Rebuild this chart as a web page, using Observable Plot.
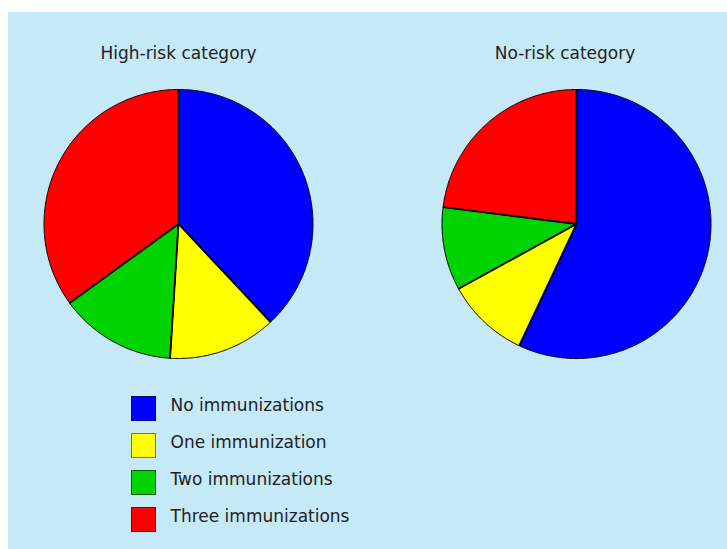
<!DOCTYPE html>
<html>
<head>
<meta charset="utf-8">
<script src="https://cdn.jsdelivr.net/npm/d3@7"></script>
<script src="https://cdn.jsdelivr.net/npm/@observablehq/plot@0.6"></script>
<style>
  html, body { margin: 0; padding: 0; background: #ffffff; }
  #panel {
    position: absolute; left: 8px; top: 12px; width: 719px; height: 537px;
    background: #c6e9f8; font-family: "DejaVu Sans", sans-serif; color: #222;
  }
  #chart svg { display: block; }
  #legend { position: absolute; left: 123px; top: 384px; }
  .row { display: flex; align-items: flex-start; height: 37px; }
  .sw { width: 23px; height: 23px; border: 1.5px solid #000; box-sizing: content-box; }
  .lab { margin-left: 14.5px; font-size: 17px; line-height: 20px; margin-top: -1px; white-space: nowrap; }
</style>
</head>
<body>
<div id="panel"><div id="chart"></div><div id="legend"></div></div>
<script>
// ---- data ----
const groups = ["High-risk category", "No-risk category"];
const categories = ["No immunizations", "One immunization", "Two immunizations", "Three immunizations"];
const highRisk = [38, 13, 14, 35];
const noRisk = [57, 10, 10, 23];
const colors = ["#0000ff", "#ffff00", "#00d300", "#ff0000"];

// ---- layout (not data) ----
const R = 134.5;            // pie radius in px
const facetW = 302;         // facet band width in px
const plotH = 360, mTop = 70, mBottom = 7;
const kx = facetW / 2 / R;
const ky = (plotH - mTop - mBottom) / 2 / R;
const titleOffsetPx = [0, -11.5];

// ---- build slice polygons from the data ----
const seriesByGroup = new Map([[groups[0], highRisk], [groups[1], noRisk]]);
const pie = d3.pie().sort(null).value(d => d.value);
const polys = [], edges = [];
for (const g of groups) {
  const vals = seriesByGroup.get(g);
  const arcs = pie(categories.map((c, i) => ({category: c, value: vals[i]})));
  for (const a of arcs) {
    const key = g + "|" + a.data.category;
    const cat = a.data.category;
    const n = Math.max(2, Math.ceil((a.endAngle - a.startAngle) / (Math.PI / 360)));
    polys.push({g, cat, key, x: 0, y: 0});
    for (let k = 0; k <= n; k++) {
      const t = a.startAngle + (a.endAngle - a.startAngle) * k / n;
      polys.push({g, cat, key, x: Math.sin(t), y: Math.cos(t)});
    }
    polys.push({g, cat, key, x: 0, y: 0});
    edges.push({g, x1: 0, y1: 0, x2: Math.sin(a.startAngle), y2: Math.cos(a.startAngle)});
  }
}
const titles = groups.map((g, i) => ({g, label: g, x: titleOffsetPx[i] / R}));

const chart = Plot.plot({
  width: 719,
  height: plotH,
  marginLeft: 19,
  marginRight: 0,
  marginTop: mTop,
  marginBottom: mBottom,
  style: {background: "transparent", fontFamily: "'DejaVu Sans', sans-serif"},
  fx: {domain: groups, paddingInner: 1 - facetW / 398, paddingOuter: 0, round: false, axis: null},
  x: {domain: [-kx, kx], axis: null},
  y: {domain: [-ky, ky], axis: null},
  color: {domain: categories, range: colors},
  marks: [
    Plot.line(polys, {fx: "g", x: "x", y: "y", z: "key", fill: "cat", stroke: "#000", strokeWidth: 1, curve: "linear"}),
    Plot.link(edges, {fx: "g", x1: "x1", y1: "y1", x2: "x2", y2: "y2", stroke: "#000", strokeWidth: 1.8}),
    Plot.text(titles, {fx: "g", x: "x", frameAnchor: "top", dy: -23.5, lineAnchor: "bottom", text: "label", fontSize: 17, fill: "#222"})
  ]
});
document.getElementById("chart").appendChild(chart);

// ---- legend (HTML, below the plot) ----
const legend = document.getElementById("legend");
categories.forEach((c, i) => {
  const row = document.createElement("div");
  row.className = "row";
  const sw = document.createElement("div");
  sw.className = "sw";
  sw.style.background = colors[i];
  sw.style.borderColor = d3.color(colors[i]).darker(2).formatHex();
  const lab = document.createElement("div");
  lab.className = "lab";
  lab.textContent = c;
  row.appendChild(sw);
  row.appendChild(lab);
  legend.appendChild(row);
});
</script>
</body>
</html>
